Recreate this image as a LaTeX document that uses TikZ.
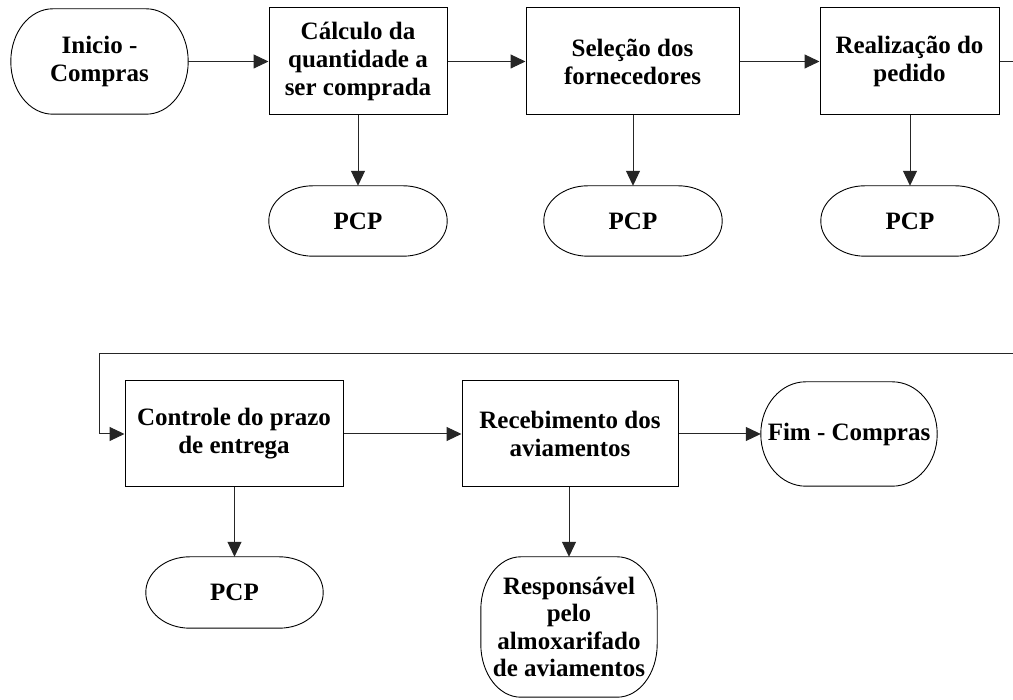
\documentclass[tikz,border=0pt]{standalone}
\usepackage{fontspec}
\setmainfont{Liberation Serif}
\usetikzlibrary{arrows.meta}
\tikzset{
  txt/.style={inner sep=0pt, align=center, font=\fontsize{25}{28}\selectfont\bfseries},
  procbox/.style={txt, draw=black, line width=1pt},
  termnode/.style={txt},
  link/.style={draw=black!85, line width=1pt},
  arr/.style={link, -{Triangle[length=15pt,width=14pt]}},
  shapeline/.style={draw=black, line width=0.9pt}
}
\newcommand\termshape[3]{%
  \draw[shapeline] ([xshift=#2]#1.north west) -- ([xshift=-#2]#1.north east)
    arc[start angle=90,end angle=0,x radius=#2,y radius=#3]
    -- ([yshift=#3]#1.south east)
    arc[start angle=0,end angle=-90,x radius=#2,y radius=#3]
    -- ([xshift=#2]#1.south west)
    arc[start angle=270,end angle=180,x radius=#2,y radius=#3]
    -- ([yshift=-#3]#1.north west)
    arc[start angle=180,end angle=90,x radius=#2,y radius=#3] -- cycle;}
\begin{document}
\begin{tikzpicture}[x=1pt,y=1pt]
\useasboundingbox (0,0) rectangle (1013,700);
% top row
\node[termnode, minimum width=177pt, minimum height=105pt] (ini) at (99.5,638.5) {Inicio -\\Compras};
\node[procbox, minimum width=178pt, minimum height=107pt] (b1) at (358,638.5) {Cálculo da\\quantidade a\\ser comprada};
\node[procbox, minimum width=213pt, minimum height=107pt] (b2) at (632.5,638.5) {Seleção dos\\fornecedores};
\node[procbox, minimum width=179pt, minimum height=107pt] (b3) at (909.5,638.5) {Realização do\\pedido};
\node[termnode, minimum width=178pt, minimum height=70pt] (p1) at (358,479) {PCP};
\node[termnode, minimum width=178pt, minimum height=70pt] (p2) at (633,479) {PCP};
\node[termnode, minimum width=178pt, minimum height=70pt] (p3) at (910,479) {PCP};
% bottom row
\node[procbox, minimum width=218pt, minimum height=106pt] (c) at (234,266) {Controle do prazo\\de entrega};
\node[procbox, minimum width=216pt, minimum height=106pt] (r) at (570,266) {Recebimento dos\\aviamentos};
\node[termnode, minimum width=176pt, minimum height=104pt] (f) at (849,266) {Fim - Compras};
\node[termnode, minimum width=177pt, minimum height=71pt] (p4) at (234.5,107.5) {PCP};
\node[termnode, minimum width=176pt, minimum height=140pt, font=\fontsize{25}{27.5}\selectfont\bfseries] (resp) at (569,73) {Responsável\\pelo\\almoxarifado\\de aviamentos};
% terminator outlines
\termshape{ini}{42pt}{52.5pt}
\termshape{p1}{44pt}{35pt}
\termshape{p2}{44pt}{35pt}
\termshape{p3}{44pt}{35pt}
\termshape{p4}{44pt}{35.5pt}
\termshape{f}{45pt}{52pt}
\termshape{resp}{40pt}{53pt}
% connectors
\coordinate (e1) at (1013,638.5);
\coordinate (e2) at (1013,346);
\coordinate (k) at (99,346);
\draw[arr] (ini) -- (b1);
\draw[arr] (b1) -- (b2);
\draw[arr] (b2) -- (b3);
\draw[link] (b3.east) -- (e1);
\draw[arr] (b1.south) -- (p1.north);
\draw[arr] (b2.south -| p2.north) -- (p2.north);
\draw[arr] (b3.south -| p3.north) -- (p3.north);
\draw[arr] (e2) -- (k) |- (c.west);
\draw[arr] (c) -- (r);
\draw[arr] (r) -- (f);
\draw[arr] (c.south -| p4.north) -- (p4.north);
\draw[arr] (r.south -| resp.north) -- (resp.north);
\end{tikzpicture}
\end{document}
